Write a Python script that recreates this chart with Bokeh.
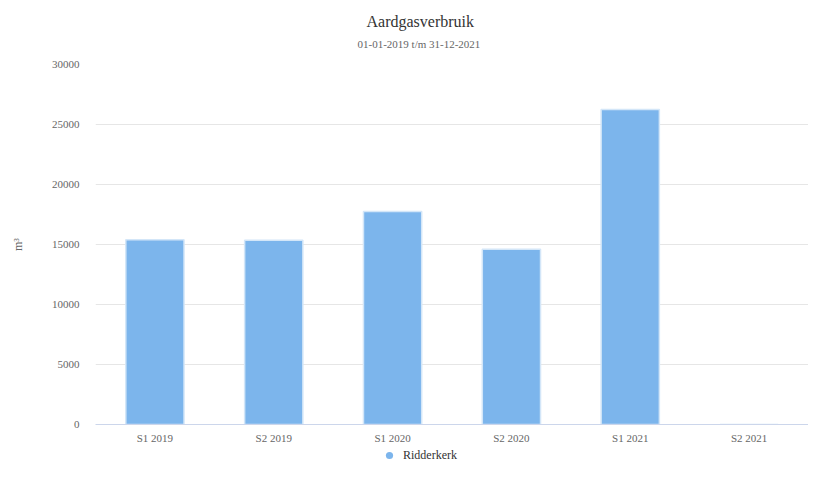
from bokeh.plotting import figure
from bokeh.layouts import column
from bokeh.models import ColumnDataSource, Title, Legend, LegendItem, FixedTicker, Range1d
from bokeh.embed import file_html
from bokeh.resources import INLINE

categories = ["S1 2019", "S2 2019", "S1 2020", "S2 2020", "S1 2021", "S2 2021"]
values = [15400, 15350, 17750, 14600, 26250, 0]
series_name = "Ridderkerk"
y_ticks = [0, 5000, 10000, 15000, 20000, 25000, 30000]

FONT = "Liberation Serif"
BAR = "#7cb5ec"

src = ColumnDataSource(dict(cat=categories, val=values))

p = figure(x_range=categories, y_range=Range1d(0, 30000), width=808, height=446,
           output_backend="svg", toolbar_location=None,
           min_border_left=95, min_border_right=0, min_border_top=64, min_border_bottom=21)
p.outline_line_color = None

p.vbar(x="cat", top="val", width=0.49, source=src, fill_color=BAR,
       line_color="#d3e6f8", line_width=1.5)

# titles (subtitle first: closest to the frame)
subtitle = Title(text="01-01-2019 t/m 31-12-2021", align="left", offset=262,
                 text_font=FONT, text_font_size="11px", text_color="#666666",
                 text_font_style="normal", standoff=29)
title = Title(text="Aardgasverbruik", align="left", offset=271,
              text_font=FONT, text_font_size="16px", text_color="#333333",
              text_font_style="normal", standoff=-17)
p.add_layout(subtitle, "above")
p.add_layout(title, "above")

# axes
p.yaxis.ticker = FixedTicker(ticks=y_ticks)
p.yaxis.axis_line_color = None
p.yaxis.major_tick_line_color = None
p.yaxis.minor_tick_line_color = None
p.yaxis.major_tick_out = 0
p.yaxis.major_tick_in = 0
p.yaxis.major_label_text_font = FONT
p.yaxis.major_label_text_font_size = "11px"
p.yaxis.major_label_text_color = "#666666"
p.yaxis.major_label_standoff = 16
p.yaxis.axis_label = "m³"
p.yaxis.axis_label_text_font = FONT
p.yaxis.axis_label_text_font_size = "12px"
p.yaxis.axis_label_text_font_style = "normal"
p.yaxis.axis_label_text_color = "#666666"
p.yaxis.axis_label_standoff = 24

p.xaxis.axis_line_color = "#ccd6eb"
p.xaxis.major_tick_line_color = None
p.xaxis.minor_tick_line_color = None
p.xaxis.major_tick_out = 0
p.xaxis.major_tick_in = 0
p.xaxis.major_label_text_font = FONT
p.xaxis.major_label_text_font_size = "11px"
p.xaxis.major_label_text_color = "#666666"
p.xaxis.major_label_standoff = 7

p.xgrid.grid_line_color = None
p.ygrid.grid_line_color = "#e6e6e6"

# separate strip for the legend (circle marker)
leg = figure(x_range=categories, y_range=Range1d(0, 30000), width=808, height=18,
             output_backend="svg", toolbar_location=None,
             x_axis_type=None, y_axis_type=None, min_border=0)
leg.outline_line_color = None
marker_r = leg.scatter(x="cat", y="val", source=src, marker="circle", size=0,
                       fill_color=BAR, line_color=None)
legend = Legend(items=[LegendItem(label=series_name, renderers=[marker_r])],
                location=(285, 0), orientation="horizontal",
                border_line_color=None, background_fill_alpha=0,
                padding=0, margin=0, glyph_width=18, glyph_height=18,
                label_height=18,
                label_text_font=FONT, label_text_font_size="12px",
                label_text_color="#333333", label_standoff=5)
leg.add_layout(legend, "center")

open("out.html", "w").write(file_html(column(p, leg), INLINE))
